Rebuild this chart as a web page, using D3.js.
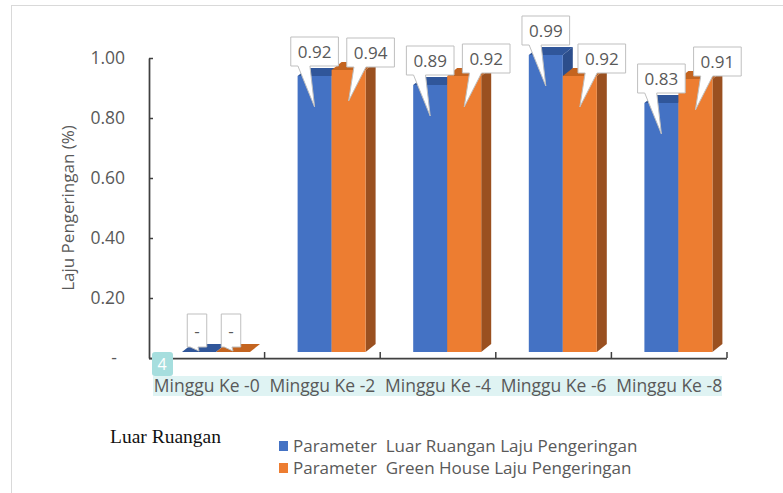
<!DOCTYPE html>
<html>
<head>
<meta charset="utf-8">
<script src="https://cdn.jsdelivr.net/npm/d3@7"></script>
<style>
    body { margin: 0; background: #ffffff; }
    svg text { font-family: "Open Sans", "Noto Sans", sans-serif; }
</style>
</head>
<body>
<svg id="chart" width="783" height="493"></svg>
<script>
// data
const categories = ["Minggu Ke -0", "Minggu Ke -2", "Minggu Ke -4", "Minggu Ke -6", "Minggu Ke -8"];
const seriesNames = ["Parameter  Luar Ruangan Laju Pengeringan", "Parameter  Green House Laju Pengeringan"];
const luarRuangan = [0, 0.92, 0.89, 0.99, 0.83];
const greenHouse = [0, 0.94, 0.92, 0.92, 0.91];
const yTicks = [0, 0.2, 0.4, 0.6, 0.8, 1.0];

const frontColors = ["#4472c4", "#ed7d31"];
const topColors = ["#30569a", "#c4641f"];
const sideColors = ["#2c4e8c", "#9a5020"];
// callout placement per series (box shift right, gap above bar top)
const labelShift = [0, 22];
const labelGap = [10, 3];

const DEPTH_X = 10, DEPTH_Y = -8;
const TEXT = "#595959";

const svg = d3.select("#chart");

// outer chart frame
svg.append("rect")
   .attr("x", 11.5).attr("y", 5.5)
   .attr("width", 800).attr("height", 500)
   .style("fill", "white")
   .style("stroke", "#d9d9d9")
   .style("stroke-width", 1);

const x = d3.scaleBand()
            .domain(categories)
            .range([149, 727]);
const xs = d3.scaleBand()
             .domain([0, 1])
             .range([33, 101]);
const y = d3.scaleLinear()
            .domain([0, 1])
            .range([358, 58]);
// bar fronts sit slightly in front of the axis plane
const yBar = d3.scaleLinear()
               .domain([0, 1])
               .range([352, 52]);

// y axis
const yAxis = svg.append("g")
                 .attr("transform", "translate(149,0)")
                 .call(d3.axisLeft(y)
                         .tickValues(yTicks)
                         .tickSize(-4)
                         .tickSizeOuter(0)
                         .tickPadding(24)
                         .tickFormat((d) => d === 0 ? "-" : d.toFixed(2)));
yAxis.select(".domain").style("stroke", "#404040").style("stroke-width", 1.75);
yAxis.selectAll(".tick line").style("stroke", "#404040").style("stroke-width", 1.5);
yAxis.selectAll(".tick text")
     .style("fill", TEXT)
     .style("font-size", "17.5px")
     .attr("dx", (d) => d === 0 ? -8 : 0);

svg.append("text")
   .attr("transform", "translate(74,208) rotate(-90)")
   .style("text-anchor", "middle")
   .style("fill", TEXT)
   .style("font-size", "17px")
   .text("Laju Pengeringan (%)");

// x axis line and boundary ticks
svg.append("line")
   .attr("x1", 149).attr("x2", 727)
   .attr("y1", y(0) + 0.5).attr("y2", y(0) + 0.5)
   .style("stroke", "#404040")
   .style("stroke-width", 1.75);
svg.append("g")
   .selectAll("line")
   .data(categories)
   .join("line")
   .attr("x1", (d) => x(d) + x.bandwidth())
   .attr("x2", (d) => x(d) + x.bandwidth())
   .attr("y1", y(0))
   .attr("y2", y(0) - 6)
   .style("stroke", "#404040")
   .style("stroke-width", 1.5);

// highlighted category labels
svg.append("rect")
   .attr("x", 153).attr("y", 376)
   .attr("width", 569).attr("height", 20)
   .style("fill", "#dff3f3");
svg.append("rect")
   .attr("x", 152).attr("y", 352)
   .attr("width", 21).attr("height", 24)
   .attr("rx", 3)
   .style("fill", "#a6dede");
svg.append("text")
   .attr("x", 162).attr("y", 370)
   .style("text-anchor", "middle")
   .style("fill", "white")
   .style("font-size", "16px")
   .text("4");
svg.append("g")
   .selectAll("text")
   .data(categories)
   .join("text")
   .attr("x", (d) => x(d) + x.bandwidth() / 2)
   .attr("y", 392)
   .style("text-anchor", "middle")
   .style("fill", TEXT)
   .style("font-size", "17.5px")
   .text((d) => d);

// 3D columns
const bars = [];
categories.forEach((c, i) => {
    [luarRuangan[i], greenHouse[i]].forEach((v, s) => {
        bars.push({ cat: c, s: s, v: v });
    });
});

const barG = svg.append("g");
for (const b of bars) {
    const x0 = x(b.cat) + xs(b.s);
    const x1 = x0 + xs.bandwidth();
    const top = yBar(b.v);
    const base = yBar(0);
    const g = barG.append("g");
    // side face
    g.append("path")
     .attr("d", `M${x1},${top}L${x1 + DEPTH_X},${top + DEPTH_Y}L${x1 + DEPTH_X},${base + DEPTH_Y}L${x1},${base}Z`)
     .style("fill", sideColors[b.s]);
    // top face
    g.append("path")
     .attr("d", `M${x0},${top}L${x0 + DEPTH_X},${top + DEPTH_Y}L${x1 + DEPTH_X},${top + DEPTH_Y}L${x1},${top}Z`)
     .style("fill", topColors[b.s]);
    // front face
    g.append("rect")
     .attr("x", x0).attr("y", top)
     .attr("width", x1 - x0).attr("height", base - top)
     .style("fill", frontColors[b.s]);
}

// callout data labels
const labelG = svg.append("g");
for (const b of bars) {
    const cx = x(b.cat) + xs(b.s) + xs.bandwidth() / 2;
    const top = yBar(b.v);
    const txt = b.v === 0 ? "-" : b.v.toFixed(2);
    const g = labelG.append("g");
    const t = g.append("text")
               .style("fill", TEXT)
               .style("font-size", "17px")
               .style("text-anchor", "middle")
               .text(txt);
    const tw = t.node().getComputedTextLength();
    const w = tw + 14;
    const h = b.v === 0 ? 33 : 29;
    const bx = cx + (b.v > 0 ? labelShift[b.s] : -2) - w / 2;
    const by = top - (b.v > 0 ? labelGap[b.s] : 5) - h;
    const tipX = cx;
    const tipY = Math.min(top + 31, yBar(0) - 1);
    const baseL = bx + Math.min(8, w * 0.15);
    const baseR = baseL + Math.min(12, w * 0.4);
    g.insert("path", "text")
     .attr("d", `M${bx},${by}H${bx + w}V${by + h}H${baseR}L${tipX},${tipY}L${baseL},${by + h}H${bx}Z`)
     .style("fill", "white")
     .style("stroke", "#bfbfbf")
     .style("stroke-width", 1);
    t.attr("x", bx + w / 2).attr("y", by + h / 2 + 6);
}

// footer text and legend
svg.append("text")
   .attr("x", 110).attr("y", 443)
   .style("font-family", "'Liberation Serif', serif")
   .style("font-size", "19.5px")
   .style("fill", "#111111")
   .text("Luar Ruangan");

const legend = svg.append("g")
                  .selectAll("g")
                  .data(seriesNames)
                  .join("g")
                  .attr("transform", (d, i) => `translate(279,${441 + i * 22})`);
legend.append("rect")
      .attr("width", 9).attr("height", 10)
      .style("fill", (d, i) => frontColors[i]);
legend.append("text")
      .attr("x", 14).attr("y", 11)
      .attr("xml:space", "preserve")
      .style("white-space", "pre")
      .style("fill", TEXT)
      .style("font-size", "17px")
      .text((d) => d);
</script>
</body>
</html>
